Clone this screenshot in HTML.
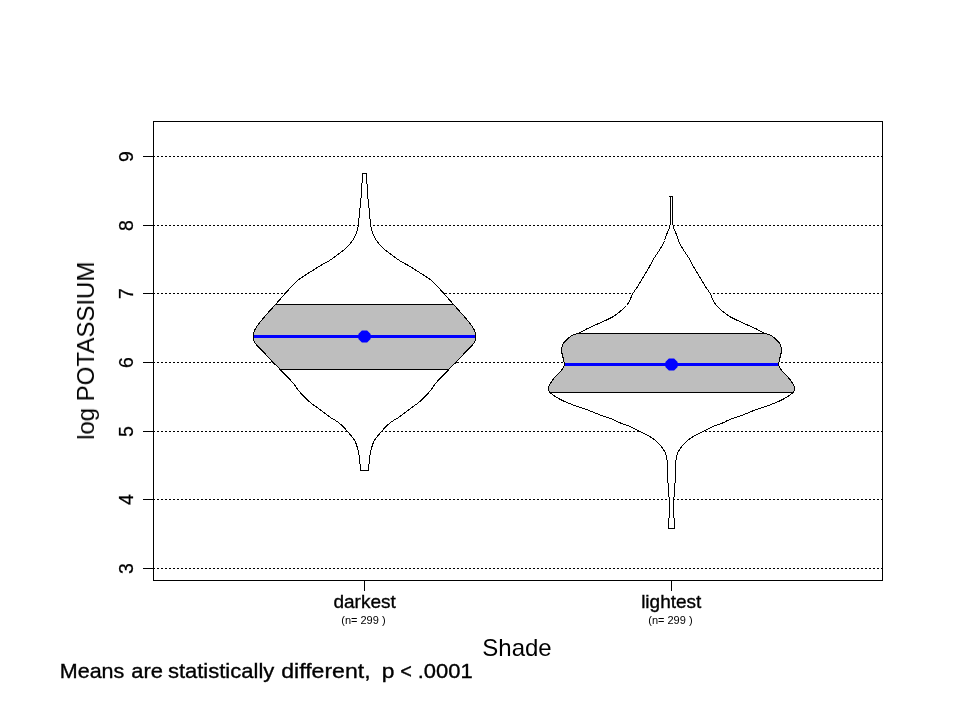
<!DOCTYPE html>
<html><head><meta charset="utf-8"><style>
html,body{margin:0;padding:0;background:#fff;width:960px;height:720px;overflow:hidden}
svg{display:block;font-family:"Liberation Sans",sans-serif}
svg g.t{filter:grayscale(1)}
</style></head><body>
<svg width="960" height="720" viewBox="0 0 960 720">
<defs><clipPath id="c1"><path d="M366.50,173.50 L366.54,174.50 L366.59,175.50 L366.63,176.50 L366.68,177.50 L366.73,178.50 L366.78,179.50 L366.84,180.50 L366.89,181.50 L366.95,182.50 L367.00,183.50 L367.06,184.50 L367.11,185.50 L367.17,186.50 L367.22,187.50 L367.28,188.50 L367.34,189.50 L367.40,190.50 L367.47,191.50 L367.53,192.50 L367.60,193.50 L367.67,194.50 L367.75,195.50 L367.83,196.50 L367.91,197.50 L368.00,198.50 L368.09,199.50 L368.19,200.50 L368.30,201.50 L368.41,202.50 L368.52,203.50 L368.63,204.50 L368.74,205.50 L368.85,206.50 L368.95,207.50 L369.05,208.50 L369.15,209.50 L369.24,210.50 L369.34,211.50 L369.43,212.50 L369.53,213.50 L369.62,214.50 L369.71,215.50 L369.81,216.50 L369.90,217.50 L370.00,218.50 L370.10,219.50 L370.21,220.50 L370.32,221.50 L370.43,222.50 L370.55,223.50 L370.68,224.50 L370.80,225.50 L370.95,226.50 L371.14,227.50 L371.37,228.50 L371.64,229.50 L371.93,230.50 L372.24,231.50 L372.56,232.50 L372.90,233.50 L373.27,234.50 L373.69,235.50 L374.16,236.50 L374.69,237.50 L375.25,238.50 L375.86,239.50 L376.50,240.50 L377.18,241.50 L377.91,242.50 L378.69,243.50 L379.52,244.50 L380.42,245.50 L381.39,246.50 L382.42,247.50 L383.53,248.50 L384.69,249.50 L385.89,250.50 L387.13,251.50 L388.40,252.50 L389.70,253.50 L391.03,254.50 L392.37,255.50 L393.73,256.50 L395.11,257.50 L396.52,258.50 L397.99,259.50 L399.52,260.50 L401.16,261.50 L402.90,262.50 L404.72,263.50 L406.54,264.50 L408.32,265.50 L410.00,266.50 L411.61,267.50 L413.21,268.50 L414.81,269.50 L416.40,270.50 L417.98,271.50 L419.56,272.50 L421.13,273.50 L422.70,274.50 L424.25,275.50 L425.78,276.50 L427.30,277.50 L428.76,278.50 L430.14,279.50 L431.44,280.50 L432.64,281.50 L433.75,282.50 L434.76,283.50 L435.70,284.50 L436.62,285.50 L437.54,286.50 L438.45,287.50 L439.36,288.50 L440.26,289.50 L441.16,290.50 L442.06,291.50 L442.95,292.50 L443.83,293.50 L444.72,294.50 L445.60,295.50 L446.48,296.50 L447.37,297.50 L448.25,298.50 L449.13,299.50 L450.02,300.50 L450.90,301.50 L451.79,302.50 L452.68,303.50 L453.57,304.50 L454.46,305.50 L455.35,306.50 L456.25,307.50 L457.14,308.50 L458.03,309.50 L458.93,310.50 L459.82,311.50 L460.71,312.50 L461.60,313.50 L462.48,314.50 L463.35,315.50 L464.23,316.50 L465.10,317.50 L465.97,318.50 L466.82,319.50 L467.65,320.50 L468.44,321.50 L469.22,322.50 L469.98,323.50 L470.73,324.50 L471.48,325.50 L472.20,326.50 L472.86,327.50 L473.46,328.50 L474.00,329.50 L474.48,330.50 L474.92,331.50 L475.28,332.50 L475.54,333.50 L475.69,334.50 L475.77,335.50 L475.80,336.50 L475.77,337.50 L475.66,338.50 L475.45,339.50 L475.12,340.50 L474.68,341.50 L474.16,342.50 L473.54,343.50 L472.82,344.50 L471.98,345.50 L471.03,346.50 L470.03,347.50 L469.01,348.50 L467.97,349.50 L466.95,350.50 L465.95,351.50 L465.00,352.50 L464.09,353.50 L463.20,354.50 L462.32,355.50 L461.45,356.50 L460.57,357.50 L459.67,358.50 L458.75,359.50 L457.79,360.50 L456.81,361.50 L455.81,362.50 L454.81,363.50 L453.80,364.50 L452.80,365.50 L451.80,366.50 L450.80,367.50 L449.80,368.50 L448.81,369.50 L447.82,370.50 L446.83,371.50 L445.84,372.50 L444.85,373.50 L443.86,374.50 L442.88,375.50 L441.90,376.50 L440.92,377.50 L439.98,378.50 L439.06,379.50 L438.16,380.50 L437.29,381.50 L436.43,382.50 L435.58,383.50 L434.76,384.50 L433.99,385.50 L433.28,386.50 L432.59,387.50 L431.91,388.50 L431.18,389.50 L430.41,390.50 L429.60,391.50 L428.77,392.50 L427.91,393.50 L427.03,394.50 L426.12,395.50 L425.17,396.50 L424.20,397.50 L423.19,398.50 L422.12,399.50 L421.01,400.50 L419.85,401.50 L418.63,402.50 L417.36,403.50 L416.03,404.50 L414.66,405.50 L413.26,406.50 L411.86,407.50 L410.47,408.50 L409.10,409.50 L407.77,410.50 L406.47,411.50 L405.19,412.50 L403.91,413.50 L402.63,414.50 L401.33,415.50 L400.00,416.50 L398.53,417.50 L396.89,418.50 L395.19,419.50 L393.52,420.50 L391.98,421.50 L390.62,422.50 L389.33,423.50 L388.12,424.50 L387.00,425.50 L385.99,426.50 L385.06,427.50 L384.14,428.50 L383.24,429.50 L382.36,430.50 L381.48,431.50 L380.61,432.50 L379.74,433.50 L378.88,434.50 L378.04,435.50 L377.21,436.50 L376.42,437.50 L375.65,438.50 L374.97,439.50 L374.38,440.50 L373.87,441.50 L373.43,442.50 L373.03,443.50 L372.67,444.50 L372.33,445.50 L371.99,446.50 L371.66,447.50 L371.35,448.50 L371.06,449.50 L370.80,450.50 L370.58,451.50 L370.40,452.50 L370.24,453.50 L370.10,454.50 L369.95,455.50 L369.82,456.50 L369.69,457.50 L369.58,458.50 L369.47,459.50 L369.36,460.50 L369.25,461.50 L369.14,462.50 L369.04,463.50 L368.95,464.50 L368.86,465.50 L368.77,466.50 L368.70,467.50 L368.63,468.50 L368.56,469.50 L368.50,470.50 L360.50,470.50 L360.44,469.50 L360.37,468.50 L360.30,467.50 L360.23,466.50 L360.14,465.50 L360.05,464.50 L359.96,463.50 L359.86,462.50 L359.75,461.50 L359.64,460.50 L359.53,459.50 L359.42,458.50 L359.31,457.50 L359.18,456.50 L359.05,455.50 L358.90,454.50 L358.76,453.50 L358.60,452.50 L358.42,451.50 L358.20,450.50 L357.94,449.50 L357.65,448.50 L357.34,447.50 L357.01,446.50 L356.67,445.50 L356.33,444.50 L355.97,443.50 L355.57,442.50 L355.13,441.50 L354.62,440.50 L354.03,439.50 L353.35,438.50 L352.58,437.50 L351.79,436.50 L350.96,435.50 L350.12,434.50 L349.26,433.50 L348.39,432.50 L347.52,431.50 L346.64,430.50 L345.76,429.50 L344.86,428.50 L343.94,427.50 L343.01,426.50 L342.00,425.50 L340.88,424.50 L339.67,423.50 L338.38,422.50 L337.02,421.50 L335.48,420.50 L333.81,419.50 L332.11,418.50 L330.47,417.50 L329.00,416.50 L327.67,415.50 L326.37,414.50 L325.09,413.50 L323.81,412.50 L322.53,411.50 L321.23,410.50 L319.90,409.50 L318.53,408.50 L317.14,407.50 L315.74,406.50 L314.34,405.50 L312.97,404.50 L311.64,403.50 L310.37,402.50 L309.15,401.50 L307.99,400.50 L306.88,399.50 L305.81,398.50 L304.80,397.50 L303.83,396.50 L302.88,395.50 L301.97,394.50 L301.09,393.50 L300.23,392.50 L299.40,391.50 L298.59,390.50 L297.82,389.50 L297.09,388.50 L296.41,387.50 L295.72,386.50 L295.01,385.50 L294.24,384.50 L293.42,383.50 L292.57,382.50 L291.71,381.50 L290.84,380.50 L289.94,379.50 L289.02,378.50 L288.08,377.50 L287.10,376.50 L286.12,375.50 L285.14,374.50 L284.15,373.50 L283.16,372.50 L282.17,371.50 L281.18,370.50 L280.19,369.50 L279.20,368.50 L278.20,367.50 L277.20,366.50 L276.20,365.50 L275.20,364.50 L274.19,363.50 L273.19,362.50 L272.19,361.50 L271.21,360.50 L270.25,359.50 L269.33,358.50 L268.43,357.50 L267.55,356.50 L266.68,355.50 L265.80,354.50 L264.91,353.50 L264.00,352.50 L263.05,351.50 L262.05,350.50 L261.03,349.50 L259.99,348.50 L258.97,347.50 L257.97,346.50 L257.02,345.50 L256.18,344.50 L255.46,343.50 L254.84,342.50 L254.32,341.50 L253.88,340.50 L253.55,339.50 L253.34,338.50 L253.23,337.50 L253.20,336.50 L253.23,335.50 L253.31,334.50 L253.46,333.50 L253.72,332.50 L254.08,331.50 L254.52,330.50 L255.00,329.50 L255.54,328.50 L256.14,327.50 L256.80,326.50 L257.52,325.50 L258.27,324.50 L259.02,323.50 L259.78,322.50 L260.56,321.50 L261.35,320.50 L262.18,319.50 L263.03,318.50 L263.90,317.50 L264.77,316.50 L265.65,315.50 L266.52,314.50 L267.40,313.50 L268.29,312.50 L269.18,311.50 L270.07,310.50 L270.97,309.50 L271.86,308.50 L272.75,307.50 L273.65,306.50 L274.54,305.50 L275.43,304.50 L276.32,303.50 L277.21,302.50 L278.10,301.50 L278.98,300.50 L279.87,299.50 L280.75,298.50 L281.63,297.50 L282.52,296.50 L283.40,295.50 L284.28,294.50 L285.17,293.50 L286.05,292.50 L286.94,291.50 L287.84,290.50 L288.74,289.50 L289.64,288.50 L290.55,287.50 L291.46,286.50 L292.38,285.50 L293.30,284.50 L294.24,283.50 L295.25,282.50 L296.36,281.50 L297.56,280.50 L298.86,279.50 L300.24,278.50 L301.70,277.50 L303.22,276.50 L304.75,275.50 L306.30,274.50 L307.87,273.50 L309.44,272.50 L311.02,271.50 L312.60,270.50 L314.19,269.50 L315.79,268.50 L317.39,267.50 L319.00,266.50 L320.68,265.50 L322.46,264.50 L324.28,263.50 L326.10,262.50 L327.84,261.50 L329.48,260.50 L331.01,259.50 L332.48,258.50 L333.89,257.50 L335.27,256.50 L336.63,255.50 L337.97,254.50 L339.30,253.50 L340.60,252.50 L341.87,251.50 L343.11,250.50 L344.31,249.50 L345.47,248.50 L346.58,247.50 L347.61,246.50 L348.58,245.50 L349.48,244.50 L350.31,243.50 L351.09,242.50 L351.82,241.50 L352.50,240.50 L353.14,239.50 L353.75,238.50 L354.31,237.50 L354.84,236.50 L355.31,235.50 L355.73,234.50 L356.10,233.50 L356.44,232.50 L356.76,231.50 L357.07,230.50 L357.36,229.50 L357.63,228.50 L357.86,227.50 L358.05,226.50 L358.20,225.50 L358.32,224.50 L358.45,223.50 L358.57,222.50 L358.68,221.50 L358.79,220.50 L358.90,219.50 L359.00,218.50 L359.10,217.50 L359.19,216.50 L359.29,215.50 L359.38,214.50 L359.47,213.50 L359.57,212.50 L359.66,211.50 L359.76,210.50 L359.85,209.50 L359.95,208.50 L360.05,207.50 L360.15,206.50 L360.26,205.50 L360.37,204.50 L360.48,203.50 L360.59,202.50 L360.70,201.50 L360.81,200.50 L360.91,199.50 L361.00,198.50 L361.09,197.50 L361.17,196.50 L361.25,195.50 L361.33,194.50 L361.40,193.50 L361.47,192.50 L361.53,191.50 L361.60,190.50 L361.66,189.50 L361.72,188.50 L361.78,187.50 L361.83,186.50 L361.89,185.50 L361.94,184.50 L362.00,183.50 L362.05,182.50 L362.11,181.50 L362.16,180.50 L362.22,179.50 L362.27,178.50 L362.32,177.50 L362.37,176.50 L362.41,175.50 L362.46,174.50 L362.50,173.50Z"/></clipPath><clipPath id="c2"><path d="M673.00,196.50 L672.89,197.50 L672.79,198.50 L672.72,199.50 L672.68,200.50 L672.64,201.50 L672.61,202.50 L672.59,203.50 L672.57,204.50 L672.55,205.50 L672.54,206.50 L672.53,207.50 L672.52,208.50 L672.52,209.50 L672.51,210.50 L672.50,211.50 L672.50,212.50 L672.49,213.50 L672.49,214.50 L672.49,215.50 L672.50,216.50 L672.51,217.50 L672.53,218.50 L672.56,219.50 L672.59,220.50 L672.64,221.50 L672.69,222.50 L672.76,223.50 L672.85,224.50 L673.03,225.50 L673.28,226.50 L673.59,227.50 L673.94,228.50 L674.31,229.50 L674.71,230.50 L675.12,231.50 L675.55,232.50 L675.99,233.50 L676.42,234.50 L676.84,235.50 L677.23,236.50 L677.56,237.50 L677.83,238.50 L678.12,239.50 L678.50,240.50 L678.93,241.50 L679.38,242.50 L679.86,243.50 L680.37,244.50 L680.90,245.50 L681.45,246.50 L682.03,247.50 L682.62,248.50 L683.23,249.50 L683.87,250.50 L684.52,251.50 L685.18,252.50 L685.85,253.50 L686.52,254.50 L687.18,255.50 L687.84,256.50 L688.48,257.50 L689.11,258.50 L689.71,259.50 L690.28,260.50 L690.83,261.50 L691.37,262.50 L691.89,263.50 L692.41,264.50 L692.94,265.50 L693.47,266.50 L694.02,267.50 L694.59,268.50 L695.18,269.50 L695.78,270.50 L696.39,271.50 L696.99,272.50 L697.59,273.50 L698.19,274.50 L698.80,275.50 L699.40,276.50 L700.00,277.50 L700.60,278.50 L701.20,279.50 L701.81,280.50 L702.41,281.50 L703.01,282.50 L703.61,283.50 L704.22,284.50 L704.82,285.50 L705.43,286.50 L706.08,287.50 L706.75,288.50 L707.44,289.50 L708.13,290.50 L708.82,291.50 L709.49,292.50 L710.12,293.50 L710.68,294.50 L711.15,295.50 L711.57,296.50 L711.96,297.50 L712.35,298.50 L712.77,299.50 L713.24,300.50 L713.78,301.50 L714.37,302.50 L715.01,303.50 L715.72,304.50 L716.49,305.50 L717.35,306.50 L718.30,307.50 L719.35,308.50 L720.49,309.50 L721.69,310.50 L722.94,311.50 L724.20,312.50 L725.45,313.50 L726.73,314.50 L728.11,315.50 L729.66,316.50 L731.44,317.50 L733.39,318.50 L735.47,319.50 L737.64,320.50 L739.84,321.50 L742.05,322.50 L744.26,323.50 L746.48,324.50 L748.71,325.50 L750.96,326.50 L753.21,327.50 L755.44,328.50 L757.44,329.50 L759.23,330.50 L761.00,331.50 L762.89,332.50 L765.53,333.50 L768.78,334.50 L770.92,335.50 L772.54,336.50 L773.91,337.50 L775.08,338.50 L776.10,339.50 L777.08,340.50 L778.03,341.50 L778.89,342.50 L779.61,343.50 L780.14,344.50 L780.57,345.50 L780.92,346.50 L781.18,347.50 L781.35,348.50 L781.41,349.50 L781.44,350.50 L781.40,351.50 L781.25,352.50 L781.01,353.50 L780.76,354.50 L780.50,355.50 L780.25,356.50 L780.00,357.50 L779.76,358.50 L779.54,359.50 L779.32,360.50 L779.11,361.50 L778.90,362.50 L778.72,363.50 L778.65,364.50 L778.75,365.50 L779.03,366.50 L779.50,367.50 L780.14,368.50 L780.89,369.50 L781.70,370.50 L782.56,371.50 L783.46,372.50 L784.39,373.50 L785.36,374.50 L786.37,375.50 L787.36,376.50 L788.30,377.50 L789.16,378.50 L789.93,379.50 L790.65,380.50 L791.32,381.50 L791.98,382.50 L792.63,383.50 L793.21,384.50 L793.69,385.50 L794.07,386.50 L794.35,387.50 L794.56,388.50 L794.61,389.50 L794.32,390.50 L793.73,391.50 L792.87,392.50 L791.79,393.50 L790.53,394.50 L789.18,395.50 L787.71,396.50 L786.13,397.50 L784.41,398.50 L782.54,399.50 L780.52,400.50 L778.33,401.50 L775.97,402.50 L773.53,403.50 L771.01,404.50 L768.39,405.50 L765.69,406.50 L762.87,407.50 L759.89,408.50 L756.86,409.50 L753.95,410.50 L751.30,411.50 L748.87,412.50 L746.56,413.50 L744.24,414.50 L741.78,415.50 L739.01,416.50 L735.86,417.50 L732.68,418.50 L729.84,419.50 L727.59,420.50 L725.67,421.50 L723.71,422.50 L721.35,423.50 L718.40,424.50 L715.43,425.50 L713.07,426.50 L710.98,427.50 L708.93,428.50 L706.90,429.50 L704.90,430.50 L702.91,431.50 L700.92,432.50 L698.95,433.50 L697.00,434.50 L695.11,435.50 L693.33,436.50 L691.66,437.50 L690.12,438.50 L688.70,439.50 L687.41,440.50 L686.25,441.50 L685.20,442.50 L684.25,443.50 L683.36,444.50 L682.55,445.50 L681.77,446.50 L681.01,447.50 L680.28,448.50 L679.59,449.50 L678.96,450.50 L678.40,451.50 L677.92,452.50 L677.53,453.50 L677.19,454.50 L676.88,455.50 L676.61,456.50 L676.39,457.50 L676.23,458.50 L676.10,459.50 L675.97,460.50 L675.86,461.50 L675.75,462.50 L675.66,463.50 L675.58,464.50 L675.53,465.50 L675.49,466.50 L675.48,467.50 L675.48,468.50 L675.50,469.50 L675.52,470.50 L675.55,471.50 L675.57,472.50 L675.58,473.50 L675.58,474.50 L675.57,475.50 L675.53,476.50 L675.47,477.50 L675.39,478.50 L675.31,479.50 L675.23,480.50 L675.14,481.50 L675.05,482.50 L674.96,483.50 L674.87,484.50 L674.78,485.50 L674.69,486.50 L674.61,487.50 L674.54,488.50 L674.47,489.50 L674.40,490.50 L674.33,491.50 L674.27,492.50 L674.21,493.50 L674.14,494.50 L674.08,495.50 L674.03,496.50 L673.97,497.50 L673.91,498.50 L673.85,499.50 L673.80,500.50 L673.74,501.50 L673.69,502.50 L673.63,503.50 L673.58,504.50 L673.53,505.50 L673.47,506.50 L673.43,507.50 L673.40,508.50 L673.38,509.50 L673.37,510.50 L673.38,511.50 L673.39,512.50 L673.41,513.50 L673.44,514.50 L673.48,515.50 L673.55,516.50 L673.80,517.50 L674.13,518.50 L674.41,519.50 L674.56,520.50 L674.65,521.50 L674.72,522.50 L674.76,523.50 L674.76,524.50 L674.74,525.50 L674.69,526.50 L674.61,527.50 L674.50,528.50 L668.50,528.50 L668.39,527.50 L668.31,526.50 L668.26,525.50 L668.24,524.50 L668.24,523.50 L668.28,522.50 L668.35,521.50 L668.44,520.50 L668.59,519.50 L668.87,518.50 L669.20,517.50 L669.45,516.50 L669.52,515.50 L669.56,514.50 L669.59,513.50 L669.61,512.50 L669.62,511.50 L669.63,510.50 L669.62,509.50 L669.60,508.50 L669.57,507.50 L669.53,506.50 L669.47,505.50 L669.42,504.50 L669.37,503.50 L669.31,502.50 L669.26,501.50 L669.20,500.50 L669.15,499.50 L669.09,498.50 L669.03,497.50 L668.97,496.50 L668.92,495.50 L668.86,494.50 L668.79,493.50 L668.73,492.50 L668.67,491.50 L668.60,490.50 L668.53,489.50 L668.46,488.50 L668.39,487.50 L668.31,486.50 L668.22,485.50 L668.13,484.50 L668.04,483.50 L667.95,482.50 L667.86,481.50 L667.77,480.50 L667.69,479.50 L667.61,478.50 L667.53,477.50 L667.47,476.50 L667.43,475.50 L667.42,474.50 L667.42,473.50 L667.43,472.50 L667.45,471.50 L667.48,470.50 L667.50,469.50 L667.52,468.50 L667.52,467.50 L667.51,466.50 L667.47,465.50 L667.42,464.50 L667.34,463.50 L667.25,462.50 L667.14,461.50 L667.03,460.50 L666.90,459.50 L666.77,458.50 L666.61,457.50 L666.39,456.50 L666.12,455.50 L665.81,454.50 L665.47,453.50 L665.08,452.50 L664.60,451.50 L664.04,450.50 L663.41,449.50 L662.72,448.50 L661.99,447.50 L661.23,446.50 L660.45,445.50 L659.64,444.50 L658.75,443.50 L657.80,442.50 L656.75,441.50 L655.59,440.50 L654.30,439.50 L652.88,438.50 L651.34,437.50 L649.67,436.50 L647.89,435.50 L646.00,434.50 L644.05,433.50 L642.08,432.50 L640.09,431.50 L638.10,430.50 L636.10,429.50 L634.07,428.50 L632.02,427.50 L629.93,426.50 L627.57,425.50 L624.60,424.50 L621.65,423.50 L619.29,422.50 L617.33,421.50 L615.41,420.50 L613.16,419.50 L610.32,418.50 L607.14,417.50 L603.99,416.50 L601.22,415.50 L598.76,414.50 L596.44,413.50 L594.13,412.50 L591.70,411.50 L589.05,410.50 L586.14,409.50 L583.11,408.50 L580.13,407.50 L577.31,406.50 L574.61,405.50 L571.99,404.50 L569.47,403.50 L567.03,402.50 L564.67,401.50 L562.48,400.50 L560.46,399.50 L558.59,398.50 L556.87,397.50 L555.29,396.50 L553.82,395.50 L552.47,394.50 L551.21,393.50 L550.13,392.50 L549.27,391.50 L548.68,390.50 L548.39,389.50 L548.44,388.50 L548.65,387.50 L548.93,386.50 L549.31,385.50 L549.79,384.50 L550.37,383.50 L551.02,382.50 L551.68,381.50 L552.35,380.50 L553.07,379.50 L553.84,378.50 L554.70,377.50 L555.64,376.50 L556.63,375.50 L557.64,374.50 L558.61,373.50 L559.54,372.50 L560.44,371.50 L561.30,370.50 L562.11,369.50 L562.86,368.50 L563.50,367.50 L563.97,366.50 L564.25,365.50 L564.35,364.50 L564.28,363.50 L564.10,362.50 L563.89,361.50 L563.68,360.50 L563.46,359.50 L563.24,358.50 L563.00,357.50 L562.75,356.50 L562.50,355.50 L562.24,354.50 L561.99,353.50 L561.75,352.50 L561.60,351.50 L561.56,350.50 L561.59,349.50 L561.65,348.50 L561.82,347.50 L562.08,346.50 L562.43,345.50 L562.86,344.50 L563.39,343.50 L564.11,342.50 L564.97,341.50 L565.92,340.50 L566.90,339.50 L567.92,338.50 L569.09,337.50 L570.46,336.50 L572.08,335.50 L574.22,334.50 L577.47,333.50 L580.11,332.50 L582.00,331.50 L583.77,330.50 L585.56,329.50 L587.56,328.50 L589.79,327.50 L592.04,326.50 L594.29,325.50 L596.52,324.50 L598.74,323.50 L600.95,322.50 L603.16,321.50 L605.36,320.50 L607.53,319.50 L609.61,318.50 L611.56,317.50 L613.34,316.50 L614.89,315.50 L616.27,314.50 L617.55,313.50 L618.80,312.50 L620.06,311.50 L621.31,310.50 L622.51,309.50 L623.65,308.50 L624.70,307.50 L625.65,306.50 L626.51,305.50 L627.28,304.50 L627.99,303.50 L628.63,302.50 L629.22,301.50 L629.76,300.50 L630.23,299.50 L630.65,298.50 L631.04,297.50 L631.43,296.50 L631.85,295.50 L632.32,294.50 L632.88,293.50 L633.51,292.50 L634.18,291.50 L634.87,290.50 L635.56,289.50 L636.25,288.50 L636.92,287.50 L637.57,286.50 L638.18,285.50 L638.78,284.50 L639.39,283.50 L639.99,282.50 L640.59,281.50 L641.19,280.50 L641.80,279.50 L642.40,278.50 L643.00,277.50 L643.60,276.50 L644.20,275.50 L644.81,274.50 L645.41,273.50 L646.01,272.50 L646.61,271.50 L647.22,270.50 L647.82,269.50 L648.41,268.50 L648.98,267.50 L649.53,266.50 L650.06,265.50 L650.59,264.50 L651.11,263.50 L651.63,262.50 L652.17,261.50 L652.72,260.50 L653.29,259.50 L653.89,258.50 L654.52,257.50 L655.16,256.50 L655.82,255.50 L656.48,254.50 L657.15,253.50 L657.82,252.50 L658.48,251.50 L659.13,250.50 L659.77,249.50 L660.38,248.50 L660.97,247.50 L661.55,246.50 L662.10,245.50 L662.63,244.50 L663.14,243.50 L663.62,242.50 L664.07,241.50 L664.50,240.50 L664.88,239.50 L665.17,238.50 L665.44,237.50 L665.77,236.50 L666.16,235.50 L666.58,234.50 L667.01,233.50 L667.45,232.50 L667.88,231.50 L668.29,230.50 L668.69,229.50 L669.06,228.50 L669.41,227.50 L669.72,226.50 L669.97,225.50 L670.15,224.50 L670.24,223.50 L670.31,222.50 L670.36,221.50 L670.41,220.50 L670.44,219.50 L670.47,218.50 L670.49,217.50 L670.50,216.50 L670.51,215.50 L670.51,214.50 L670.51,213.50 L670.50,212.50 L670.50,211.50 L670.49,210.50 L670.48,209.50 L670.48,208.50 L670.47,207.50 L670.46,206.50 L670.45,205.50 L670.43,204.50 L670.41,203.50 L670.39,202.50 L670.36,201.50 L670.32,200.50 L670.28,199.50 L670.21,198.50 L670.11,197.50 L670.00,196.50Z"/></clipPath></defs>
<line x1="153" y1="568.5" x2="883" y2="568.5" stroke="#000" stroke-width="1" stroke-dasharray="2 2" shape-rendering="crispEdges"/>
<line x1="143" y1="568.5" x2="155" y2="568.5" stroke="#000" stroke-width="1" shape-rendering="crispEdges"/>
<line x1="153" y1="499.5" x2="883" y2="499.5" stroke="#000" stroke-width="1" stroke-dasharray="2 2" shape-rendering="crispEdges"/>
<line x1="143" y1="499.5" x2="155" y2="499.5" stroke="#000" stroke-width="1" shape-rendering="crispEdges"/>
<line x1="153" y1="431.5" x2="883" y2="431.5" stroke="#000" stroke-width="1" stroke-dasharray="2 2" shape-rendering="crispEdges"/>
<line x1="143" y1="431.5" x2="155" y2="431.5" stroke="#000" stroke-width="1" shape-rendering="crispEdges"/>
<line x1="153" y1="362.5" x2="883" y2="362.5" stroke="#000" stroke-width="1" stroke-dasharray="2 2" shape-rendering="crispEdges"/>
<line x1="143" y1="362.5" x2="155" y2="362.5" stroke="#000" stroke-width="1" shape-rendering="crispEdges"/>
<line x1="153" y1="293.5" x2="883" y2="293.5" stroke="#000" stroke-width="1" stroke-dasharray="2 2" shape-rendering="crispEdges"/>
<line x1="143" y1="293.5" x2="155" y2="293.5" stroke="#000" stroke-width="1" shape-rendering="crispEdges"/>
<line x1="153" y1="225.5" x2="883" y2="225.5" stroke="#000" stroke-width="1" stroke-dasharray="2 2" shape-rendering="crispEdges"/>
<line x1="143" y1="225.5" x2="155" y2="225.5" stroke="#000" stroke-width="1" shape-rendering="crispEdges"/>
<line x1="153" y1="156.5" x2="883" y2="156.5" stroke="#000" stroke-width="1" stroke-dasharray="2 2" shape-rendering="crispEdges"/>
<line x1="143" y1="156.5" x2="155" y2="156.5" stroke="#000" stroke-width="1" shape-rendering="crispEdges"/>
<path d="M366.50,173.50 L366.54,174.50 L366.59,175.50 L366.63,176.50 L366.68,177.50 L366.73,178.50 L366.78,179.50 L366.84,180.50 L366.89,181.50 L366.95,182.50 L367.00,183.50 L367.06,184.50 L367.11,185.50 L367.17,186.50 L367.22,187.50 L367.28,188.50 L367.34,189.50 L367.40,190.50 L367.47,191.50 L367.53,192.50 L367.60,193.50 L367.67,194.50 L367.75,195.50 L367.83,196.50 L367.91,197.50 L368.00,198.50 L368.09,199.50 L368.19,200.50 L368.30,201.50 L368.41,202.50 L368.52,203.50 L368.63,204.50 L368.74,205.50 L368.85,206.50 L368.95,207.50 L369.05,208.50 L369.15,209.50 L369.24,210.50 L369.34,211.50 L369.43,212.50 L369.53,213.50 L369.62,214.50 L369.71,215.50 L369.81,216.50 L369.90,217.50 L370.00,218.50 L370.10,219.50 L370.21,220.50 L370.32,221.50 L370.43,222.50 L370.55,223.50 L370.68,224.50 L370.80,225.50 L370.95,226.50 L371.14,227.50 L371.37,228.50 L371.64,229.50 L371.93,230.50 L372.24,231.50 L372.56,232.50 L372.90,233.50 L373.27,234.50 L373.69,235.50 L374.16,236.50 L374.69,237.50 L375.25,238.50 L375.86,239.50 L376.50,240.50 L377.18,241.50 L377.91,242.50 L378.69,243.50 L379.52,244.50 L380.42,245.50 L381.39,246.50 L382.42,247.50 L383.53,248.50 L384.69,249.50 L385.89,250.50 L387.13,251.50 L388.40,252.50 L389.70,253.50 L391.03,254.50 L392.37,255.50 L393.73,256.50 L395.11,257.50 L396.52,258.50 L397.99,259.50 L399.52,260.50 L401.16,261.50 L402.90,262.50 L404.72,263.50 L406.54,264.50 L408.32,265.50 L410.00,266.50 L411.61,267.50 L413.21,268.50 L414.81,269.50 L416.40,270.50 L417.98,271.50 L419.56,272.50 L421.13,273.50 L422.70,274.50 L424.25,275.50 L425.78,276.50 L427.30,277.50 L428.76,278.50 L430.14,279.50 L431.44,280.50 L432.64,281.50 L433.75,282.50 L434.76,283.50 L435.70,284.50 L436.62,285.50 L437.54,286.50 L438.45,287.50 L439.36,288.50 L440.26,289.50 L441.16,290.50 L442.06,291.50 L442.95,292.50 L443.83,293.50 L444.72,294.50 L445.60,295.50 L446.48,296.50 L447.37,297.50 L448.25,298.50 L449.13,299.50 L450.02,300.50 L450.90,301.50 L451.79,302.50 L452.68,303.50 L453.57,304.50 L454.46,305.50 L455.35,306.50 L456.25,307.50 L457.14,308.50 L458.03,309.50 L458.93,310.50 L459.82,311.50 L460.71,312.50 L461.60,313.50 L462.48,314.50 L463.35,315.50 L464.23,316.50 L465.10,317.50 L465.97,318.50 L466.82,319.50 L467.65,320.50 L468.44,321.50 L469.22,322.50 L469.98,323.50 L470.73,324.50 L471.48,325.50 L472.20,326.50 L472.86,327.50 L473.46,328.50 L474.00,329.50 L474.48,330.50 L474.92,331.50 L475.28,332.50 L475.54,333.50 L475.69,334.50 L475.77,335.50 L475.80,336.50 L475.77,337.50 L475.66,338.50 L475.45,339.50 L475.12,340.50 L474.68,341.50 L474.16,342.50 L473.54,343.50 L472.82,344.50 L471.98,345.50 L471.03,346.50 L470.03,347.50 L469.01,348.50 L467.97,349.50 L466.95,350.50 L465.95,351.50 L465.00,352.50 L464.09,353.50 L463.20,354.50 L462.32,355.50 L461.45,356.50 L460.57,357.50 L459.67,358.50 L458.75,359.50 L457.79,360.50 L456.81,361.50 L455.81,362.50 L454.81,363.50 L453.80,364.50 L452.80,365.50 L451.80,366.50 L450.80,367.50 L449.80,368.50 L448.81,369.50 L447.82,370.50 L446.83,371.50 L445.84,372.50 L444.85,373.50 L443.86,374.50 L442.88,375.50 L441.90,376.50 L440.92,377.50 L439.98,378.50 L439.06,379.50 L438.16,380.50 L437.29,381.50 L436.43,382.50 L435.58,383.50 L434.76,384.50 L433.99,385.50 L433.28,386.50 L432.59,387.50 L431.91,388.50 L431.18,389.50 L430.41,390.50 L429.60,391.50 L428.77,392.50 L427.91,393.50 L427.03,394.50 L426.12,395.50 L425.17,396.50 L424.20,397.50 L423.19,398.50 L422.12,399.50 L421.01,400.50 L419.85,401.50 L418.63,402.50 L417.36,403.50 L416.03,404.50 L414.66,405.50 L413.26,406.50 L411.86,407.50 L410.47,408.50 L409.10,409.50 L407.77,410.50 L406.47,411.50 L405.19,412.50 L403.91,413.50 L402.63,414.50 L401.33,415.50 L400.00,416.50 L398.53,417.50 L396.89,418.50 L395.19,419.50 L393.52,420.50 L391.98,421.50 L390.62,422.50 L389.33,423.50 L388.12,424.50 L387.00,425.50 L385.99,426.50 L385.06,427.50 L384.14,428.50 L383.24,429.50 L382.36,430.50 L381.48,431.50 L380.61,432.50 L379.74,433.50 L378.88,434.50 L378.04,435.50 L377.21,436.50 L376.42,437.50 L375.65,438.50 L374.97,439.50 L374.38,440.50 L373.87,441.50 L373.43,442.50 L373.03,443.50 L372.67,444.50 L372.33,445.50 L371.99,446.50 L371.66,447.50 L371.35,448.50 L371.06,449.50 L370.80,450.50 L370.58,451.50 L370.40,452.50 L370.24,453.50 L370.10,454.50 L369.95,455.50 L369.82,456.50 L369.69,457.50 L369.58,458.50 L369.47,459.50 L369.36,460.50 L369.25,461.50 L369.14,462.50 L369.04,463.50 L368.95,464.50 L368.86,465.50 L368.77,466.50 L368.70,467.50 L368.63,468.50 L368.56,469.50 L368.50,470.50 L360.50,470.50 L360.44,469.50 L360.37,468.50 L360.30,467.50 L360.23,466.50 L360.14,465.50 L360.05,464.50 L359.96,463.50 L359.86,462.50 L359.75,461.50 L359.64,460.50 L359.53,459.50 L359.42,458.50 L359.31,457.50 L359.18,456.50 L359.05,455.50 L358.90,454.50 L358.76,453.50 L358.60,452.50 L358.42,451.50 L358.20,450.50 L357.94,449.50 L357.65,448.50 L357.34,447.50 L357.01,446.50 L356.67,445.50 L356.33,444.50 L355.97,443.50 L355.57,442.50 L355.13,441.50 L354.62,440.50 L354.03,439.50 L353.35,438.50 L352.58,437.50 L351.79,436.50 L350.96,435.50 L350.12,434.50 L349.26,433.50 L348.39,432.50 L347.52,431.50 L346.64,430.50 L345.76,429.50 L344.86,428.50 L343.94,427.50 L343.01,426.50 L342.00,425.50 L340.88,424.50 L339.67,423.50 L338.38,422.50 L337.02,421.50 L335.48,420.50 L333.81,419.50 L332.11,418.50 L330.47,417.50 L329.00,416.50 L327.67,415.50 L326.37,414.50 L325.09,413.50 L323.81,412.50 L322.53,411.50 L321.23,410.50 L319.90,409.50 L318.53,408.50 L317.14,407.50 L315.74,406.50 L314.34,405.50 L312.97,404.50 L311.64,403.50 L310.37,402.50 L309.15,401.50 L307.99,400.50 L306.88,399.50 L305.81,398.50 L304.80,397.50 L303.83,396.50 L302.88,395.50 L301.97,394.50 L301.09,393.50 L300.23,392.50 L299.40,391.50 L298.59,390.50 L297.82,389.50 L297.09,388.50 L296.41,387.50 L295.72,386.50 L295.01,385.50 L294.24,384.50 L293.42,383.50 L292.57,382.50 L291.71,381.50 L290.84,380.50 L289.94,379.50 L289.02,378.50 L288.08,377.50 L287.10,376.50 L286.12,375.50 L285.14,374.50 L284.15,373.50 L283.16,372.50 L282.17,371.50 L281.18,370.50 L280.19,369.50 L279.20,368.50 L278.20,367.50 L277.20,366.50 L276.20,365.50 L275.20,364.50 L274.19,363.50 L273.19,362.50 L272.19,361.50 L271.21,360.50 L270.25,359.50 L269.33,358.50 L268.43,357.50 L267.55,356.50 L266.68,355.50 L265.80,354.50 L264.91,353.50 L264.00,352.50 L263.05,351.50 L262.05,350.50 L261.03,349.50 L259.99,348.50 L258.97,347.50 L257.97,346.50 L257.02,345.50 L256.18,344.50 L255.46,343.50 L254.84,342.50 L254.32,341.50 L253.88,340.50 L253.55,339.50 L253.34,338.50 L253.23,337.50 L253.20,336.50 L253.23,335.50 L253.31,334.50 L253.46,333.50 L253.72,332.50 L254.08,331.50 L254.52,330.50 L255.00,329.50 L255.54,328.50 L256.14,327.50 L256.80,326.50 L257.52,325.50 L258.27,324.50 L259.02,323.50 L259.78,322.50 L260.56,321.50 L261.35,320.50 L262.18,319.50 L263.03,318.50 L263.90,317.50 L264.77,316.50 L265.65,315.50 L266.52,314.50 L267.40,313.50 L268.29,312.50 L269.18,311.50 L270.07,310.50 L270.97,309.50 L271.86,308.50 L272.75,307.50 L273.65,306.50 L274.54,305.50 L275.43,304.50 L276.32,303.50 L277.21,302.50 L278.10,301.50 L278.98,300.50 L279.87,299.50 L280.75,298.50 L281.63,297.50 L282.52,296.50 L283.40,295.50 L284.28,294.50 L285.17,293.50 L286.05,292.50 L286.94,291.50 L287.84,290.50 L288.74,289.50 L289.64,288.50 L290.55,287.50 L291.46,286.50 L292.38,285.50 L293.30,284.50 L294.24,283.50 L295.25,282.50 L296.36,281.50 L297.56,280.50 L298.86,279.50 L300.24,278.50 L301.70,277.50 L303.22,276.50 L304.75,275.50 L306.30,274.50 L307.87,273.50 L309.44,272.50 L311.02,271.50 L312.60,270.50 L314.19,269.50 L315.79,268.50 L317.39,267.50 L319.00,266.50 L320.68,265.50 L322.46,264.50 L324.28,263.50 L326.10,262.50 L327.84,261.50 L329.48,260.50 L331.01,259.50 L332.48,258.50 L333.89,257.50 L335.27,256.50 L336.63,255.50 L337.97,254.50 L339.30,253.50 L340.60,252.50 L341.87,251.50 L343.11,250.50 L344.31,249.50 L345.47,248.50 L346.58,247.50 L347.61,246.50 L348.58,245.50 L349.48,244.50 L350.31,243.50 L351.09,242.50 L351.82,241.50 L352.50,240.50 L353.14,239.50 L353.75,238.50 L354.31,237.50 L354.84,236.50 L355.31,235.50 L355.73,234.50 L356.10,233.50 L356.44,232.50 L356.76,231.50 L357.07,230.50 L357.36,229.50 L357.63,228.50 L357.86,227.50 L358.05,226.50 L358.20,225.50 L358.32,224.50 L358.45,223.50 L358.57,222.50 L358.68,221.50 L358.79,220.50 L358.90,219.50 L359.00,218.50 L359.10,217.50 L359.19,216.50 L359.29,215.50 L359.38,214.50 L359.47,213.50 L359.57,212.50 L359.66,211.50 L359.76,210.50 L359.85,209.50 L359.95,208.50 L360.05,207.50 L360.15,206.50 L360.26,205.50 L360.37,204.50 L360.48,203.50 L360.59,202.50 L360.70,201.50 L360.81,200.50 L360.91,199.50 L361.00,198.50 L361.09,197.50 L361.17,196.50 L361.25,195.50 L361.33,194.50 L361.40,193.50 L361.47,192.50 L361.53,191.50 L361.60,190.50 L361.66,189.50 L361.72,188.50 L361.78,187.50 L361.83,186.50 L361.89,185.50 L361.94,184.50 L362.00,183.50 L362.05,182.50 L362.11,181.50 L362.16,180.50 L362.22,179.50 L362.27,178.50 L362.32,177.50 L362.37,176.50 L362.41,175.50 L362.46,174.50 L362.50,173.50Z" fill="#fff"/>
<g clip-path="url(#c1)"><rect x="224.5" y="304.5" width="280" height="65.0" fill="#bebebe" stroke="#000" stroke-width="1"/><line x1="224.5" y1="336.5" x2="504.5" y2="336.5" stroke="#0000ff" stroke-width="3"/></g>
<path d="M366.50,173.50 L366.54,174.50 L366.59,175.50 L366.63,176.50 L366.68,177.50 L366.73,178.50 L366.78,179.50 L366.84,180.50 L366.89,181.50 L366.95,182.50 L367.00,183.50 L367.06,184.50 L367.11,185.50 L367.17,186.50 L367.22,187.50 L367.28,188.50 L367.34,189.50 L367.40,190.50 L367.47,191.50 L367.53,192.50 L367.60,193.50 L367.67,194.50 L367.75,195.50 L367.83,196.50 L367.91,197.50 L368.00,198.50 L368.09,199.50 L368.19,200.50 L368.30,201.50 L368.41,202.50 L368.52,203.50 L368.63,204.50 L368.74,205.50 L368.85,206.50 L368.95,207.50 L369.05,208.50 L369.15,209.50 L369.24,210.50 L369.34,211.50 L369.43,212.50 L369.53,213.50 L369.62,214.50 L369.71,215.50 L369.81,216.50 L369.90,217.50 L370.00,218.50 L370.10,219.50 L370.21,220.50 L370.32,221.50 L370.43,222.50 L370.55,223.50 L370.68,224.50 L370.80,225.50 L370.95,226.50 L371.14,227.50 L371.37,228.50 L371.64,229.50 L371.93,230.50 L372.24,231.50 L372.56,232.50 L372.90,233.50 L373.27,234.50 L373.69,235.50 L374.16,236.50 L374.69,237.50 L375.25,238.50 L375.86,239.50 L376.50,240.50 L377.18,241.50 L377.91,242.50 L378.69,243.50 L379.52,244.50 L380.42,245.50 L381.39,246.50 L382.42,247.50 L383.53,248.50 L384.69,249.50 L385.89,250.50 L387.13,251.50 L388.40,252.50 L389.70,253.50 L391.03,254.50 L392.37,255.50 L393.73,256.50 L395.11,257.50 L396.52,258.50 L397.99,259.50 L399.52,260.50 L401.16,261.50 L402.90,262.50 L404.72,263.50 L406.54,264.50 L408.32,265.50 L410.00,266.50 L411.61,267.50 L413.21,268.50 L414.81,269.50 L416.40,270.50 L417.98,271.50 L419.56,272.50 L421.13,273.50 L422.70,274.50 L424.25,275.50 L425.78,276.50 L427.30,277.50 L428.76,278.50 L430.14,279.50 L431.44,280.50 L432.64,281.50 L433.75,282.50 L434.76,283.50 L435.70,284.50 L436.62,285.50 L437.54,286.50 L438.45,287.50 L439.36,288.50 L440.26,289.50 L441.16,290.50 L442.06,291.50 L442.95,292.50 L443.83,293.50 L444.72,294.50 L445.60,295.50 L446.48,296.50 L447.37,297.50 L448.25,298.50 L449.13,299.50 L450.02,300.50 L450.90,301.50 L451.79,302.50 L452.68,303.50 L453.57,304.50 L454.46,305.50 L455.35,306.50 L456.25,307.50 L457.14,308.50 L458.03,309.50 L458.93,310.50 L459.82,311.50 L460.71,312.50 L461.60,313.50 L462.48,314.50 L463.35,315.50 L464.23,316.50 L465.10,317.50 L465.97,318.50 L466.82,319.50 L467.65,320.50 L468.44,321.50 L469.22,322.50 L469.98,323.50 L470.73,324.50 L471.48,325.50 L472.20,326.50 L472.86,327.50 L473.46,328.50 L474.00,329.50 L474.48,330.50 L474.92,331.50 L475.28,332.50 L475.54,333.50 L475.69,334.50 L475.77,335.50 L475.80,336.50 L475.77,337.50 L475.66,338.50 L475.45,339.50 L475.12,340.50 L474.68,341.50 L474.16,342.50 L473.54,343.50 L472.82,344.50 L471.98,345.50 L471.03,346.50 L470.03,347.50 L469.01,348.50 L467.97,349.50 L466.95,350.50 L465.95,351.50 L465.00,352.50 L464.09,353.50 L463.20,354.50 L462.32,355.50 L461.45,356.50 L460.57,357.50 L459.67,358.50 L458.75,359.50 L457.79,360.50 L456.81,361.50 L455.81,362.50 L454.81,363.50 L453.80,364.50 L452.80,365.50 L451.80,366.50 L450.80,367.50 L449.80,368.50 L448.81,369.50 L447.82,370.50 L446.83,371.50 L445.84,372.50 L444.85,373.50 L443.86,374.50 L442.88,375.50 L441.90,376.50 L440.92,377.50 L439.98,378.50 L439.06,379.50 L438.16,380.50 L437.29,381.50 L436.43,382.50 L435.58,383.50 L434.76,384.50 L433.99,385.50 L433.28,386.50 L432.59,387.50 L431.91,388.50 L431.18,389.50 L430.41,390.50 L429.60,391.50 L428.77,392.50 L427.91,393.50 L427.03,394.50 L426.12,395.50 L425.17,396.50 L424.20,397.50 L423.19,398.50 L422.12,399.50 L421.01,400.50 L419.85,401.50 L418.63,402.50 L417.36,403.50 L416.03,404.50 L414.66,405.50 L413.26,406.50 L411.86,407.50 L410.47,408.50 L409.10,409.50 L407.77,410.50 L406.47,411.50 L405.19,412.50 L403.91,413.50 L402.63,414.50 L401.33,415.50 L400.00,416.50 L398.53,417.50 L396.89,418.50 L395.19,419.50 L393.52,420.50 L391.98,421.50 L390.62,422.50 L389.33,423.50 L388.12,424.50 L387.00,425.50 L385.99,426.50 L385.06,427.50 L384.14,428.50 L383.24,429.50 L382.36,430.50 L381.48,431.50 L380.61,432.50 L379.74,433.50 L378.88,434.50 L378.04,435.50 L377.21,436.50 L376.42,437.50 L375.65,438.50 L374.97,439.50 L374.38,440.50 L373.87,441.50 L373.43,442.50 L373.03,443.50 L372.67,444.50 L372.33,445.50 L371.99,446.50 L371.66,447.50 L371.35,448.50 L371.06,449.50 L370.80,450.50 L370.58,451.50 L370.40,452.50 L370.24,453.50 L370.10,454.50 L369.95,455.50 L369.82,456.50 L369.69,457.50 L369.58,458.50 L369.47,459.50 L369.36,460.50 L369.25,461.50 L369.14,462.50 L369.04,463.50 L368.95,464.50 L368.86,465.50 L368.77,466.50 L368.70,467.50 L368.63,468.50 L368.56,469.50 L368.50,470.50 L360.50,470.50 L360.44,469.50 L360.37,468.50 L360.30,467.50 L360.23,466.50 L360.14,465.50 L360.05,464.50 L359.96,463.50 L359.86,462.50 L359.75,461.50 L359.64,460.50 L359.53,459.50 L359.42,458.50 L359.31,457.50 L359.18,456.50 L359.05,455.50 L358.90,454.50 L358.76,453.50 L358.60,452.50 L358.42,451.50 L358.20,450.50 L357.94,449.50 L357.65,448.50 L357.34,447.50 L357.01,446.50 L356.67,445.50 L356.33,444.50 L355.97,443.50 L355.57,442.50 L355.13,441.50 L354.62,440.50 L354.03,439.50 L353.35,438.50 L352.58,437.50 L351.79,436.50 L350.96,435.50 L350.12,434.50 L349.26,433.50 L348.39,432.50 L347.52,431.50 L346.64,430.50 L345.76,429.50 L344.86,428.50 L343.94,427.50 L343.01,426.50 L342.00,425.50 L340.88,424.50 L339.67,423.50 L338.38,422.50 L337.02,421.50 L335.48,420.50 L333.81,419.50 L332.11,418.50 L330.47,417.50 L329.00,416.50 L327.67,415.50 L326.37,414.50 L325.09,413.50 L323.81,412.50 L322.53,411.50 L321.23,410.50 L319.90,409.50 L318.53,408.50 L317.14,407.50 L315.74,406.50 L314.34,405.50 L312.97,404.50 L311.64,403.50 L310.37,402.50 L309.15,401.50 L307.99,400.50 L306.88,399.50 L305.81,398.50 L304.80,397.50 L303.83,396.50 L302.88,395.50 L301.97,394.50 L301.09,393.50 L300.23,392.50 L299.40,391.50 L298.59,390.50 L297.82,389.50 L297.09,388.50 L296.41,387.50 L295.72,386.50 L295.01,385.50 L294.24,384.50 L293.42,383.50 L292.57,382.50 L291.71,381.50 L290.84,380.50 L289.94,379.50 L289.02,378.50 L288.08,377.50 L287.10,376.50 L286.12,375.50 L285.14,374.50 L284.15,373.50 L283.16,372.50 L282.17,371.50 L281.18,370.50 L280.19,369.50 L279.20,368.50 L278.20,367.50 L277.20,366.50 L276.20,365.50 L275.20,364.50 L274.19,363.50 L273.19,362.50 L272.19,361.50 L271.21,360.50 L270.25,359.50 L269.33,358.50 L268.43,357.50 L267.55,356.50 L266.68,355.50 L265.80,354.50 L264.91,353.50 L264.00,352.50 L263.05,351.50 L262.05,350.50 L261.03,349.50 L259.99,348.50 L258.97,347.50 L257.97,346.50 L257.02,345.50 L256.18,344.50 L255.46,343.50 L254.84,342.50 L254.32,341.50 L253.88,340.50 L253.55,339.50 L253.34,338.50 L253.23,337.50 L253.20,336.50 L253.23,335.50 L253.31,334.50 L253.46,333.50 L253.72,332.50 L254.08,331.50 L254.52,330.50 L255.00,329.50 L255.54,328.50 L256.14,327.50 L256.80,326.50 L257.52,325.50 L258.27,324.50 L259.02,323.50 L259.78,322.50 L260.56,321.50 L261.35,320.50 L262.18,319.50 L263.03,318.50 L263.90,317.50 L264.77,316.50 L265.65,315.50 L266.52,314.50 L267.40,313.50 L268.29,312.50 L269.18,311.50 L270.07,310.50 L270.97,309.50 L271.86,308.50 L272.75,307.50 L273.65,306.50 L274.54,305.50 L275.43,304.50 L276.32,303.50 L277.21,302.50 L278.10,301.50 L278.98,300.50 L279.87,299.50 L280.75,298.50 L281.63,297.50 L282.52,296.50 L283.40,295.50 L284.28,294.50 L285.17,293.50 L286.05,292.50 L286.94,291.50 L287.84,290.50 L288.74,289.50 L289.64,288.50 L290.55,287.50 L291.46,286.50 L292.38,285.50 L293.30,284.50 L294.24,283.50 L295.25,282.50 L296.36,281.50 L297.56,280.50 L298.86,279.50 L300.24,278.50 L301.70,277.50 L303.22,276.50 L304.75,275.50 L306.30,274.50 L307.87,273.50 L309.44,272.50 L311.02,271.50 L312.60,270.50 L314.19,269.50 L315.79,268.50 L317.39,267.50 L319.00,266.50 L320.68,265.50 L322.46,264.50 L324.28,263.50 L326.10,262.50 L327.84,261.50 L329.48,260.50 L331.01,259.50 L332.48,258.50 L333.89,257.50 L335.27,256.50 L336.63,255.50 L337.97,254.50 L339.30,253.50 L340.60,252.50 L341.87,251.50 L343.11,250.50 L344.31,249.50 L345.47,248.50 L346.58,247.50 L347.61,246.50 L348.58,245.50 L349.48,244.50 L350.31,243.50 L351.09,242.50 L351.82,241.50 L352.50,240.50 L353.14,239.50 L353.75,238.50 L354.31,237.50 L354.84,236.50 L355.31,235.50 L355.73,234.50 L356.10,233.50 L356.44,232.50 L356.76,231.50 L357.07,230.50 L357.36,229.50 L357.63,228.50 L357.86,227.50 L358.05,226.50 L358.20,225.50 L358.32,224.50 L358.45,223.50 L358.57,222.50 L358.68,221.50 L358.79,220.50 L358.90,219.50 L359.00,218.50 L359.10,217.50 L359.19,216.50 L359.29,215.50 L359.38,214.50 L359.47,213.50 L359.57,212.50 L359.66,211.50 L359.76,210.50 L359.85,209.50 L359.95,208.50 L360.05,207.50 L360.15,206.50 L360.26,205.50 L360.37,204.50 L360.48,203.50 L360.59,202.50 L360.70,201.50 L360.81,200.50 L360.91,199.50 L361.00,198.50 L361.09,197.50 L361.17,196.50 L361.25,195.50 L361.33,194.50 L361.40,193.50 L361.47,192.50 L361.53,191.50 L361.60,190.50 L361.66,189.50 L361.72,188.50 L361.78,187.50 L361.83,186.50 L361.89,185.50 L361.94,184.50 L362.00,183.50 L362.05,182.50 L362.11,181.50 L362.16,180.50 L362.22,179.50 L362.27,178.50 L362.32,177.50 L362.37,176.50 L362.41,175.50 L362.46,174.50 L362.50,173.50Z" fill="none" stroke="#000" stroke-width="1" shape-rendering="crispEdges"/>
<polygon points="361.90,330.40 367.10,330.40 370.60,333.90 370.60,339.10 367.10,342.60 361.90,342.60 358.40,339.10 358.40,333.90" fill="#0000ff"/>
<path d="M673.00,196.50 L672.89,197.50 L672.79,198.50 L672.72,199.50 L672.68,200.50 L672.64,201.50 L672.61,202.50 L672.59,203.50 L672.57,204.50 L672.55,205.50 L672.54,206.50 L672.53,207.50 L672.52,208.50 L672.52,209.50 L672.51,210.50 L672.50,211.50 L672.50,212.50 L672.49,213.50 L672.49,214.50 L672.49,215.50 L672.50,216.50 L672.51,217.50 L672.53,218.50 L672.56,219.50 L672.59,220.50 L672.64,221.50 L672.69,222.50 L672.76,223.50 L672.85,224.50 L673.03,225.50 L673.28,226.50 L673.59,227.50 L673.94,228.50 L674.31,229.50 L674.71,230.50 L675.12,231.50 L675.55,232.50 L675.99,233.50 L676.42,234.50 L676.84,235.50 L677.23,236.50 L677.56,237.50 L677.83,238.50 L678.12,239.50 L678.50,240.50 L678.93,241.50 L679.38,242.50 L679.86,243.50 L680.37,244.50 L680.90,245.50 L681.45,246.50 L682.03,247.50 L682.62,248.50 L683.23,249.50 L683.87,250.50 L684.52,251.50 L685.18,252.50 L685.85,253.50 L686.52,254.50 L687.18,255.50 L687.84,256.50 L688.48,257.50 L689.11,258.50 L689.71,259.50 L690.28,260.50 L690.83,261.50 L691.37,262.50 L691.89,263.50 L692.41,264.50 L692.94,265.50 L693.47,266.50 L694.02,267.50 L694.59,268.50 L695.18,269.50 L695.78,270.50 L696.39,271.50 L696.99,272.50 L697.59,273.50 L698.19,274.50 L698.80,275.50 L699.40,276.50 L700.00,277.50 L700.60,278.50 L701.20,279.50 L701.81,280.50 L702.41,281.50 L703.01,282.50 L703.61,283.50 L704.22,284.50 L704.82,285.50 L705.43,286.50 L706.08,287.50 L706.75,288.50 L707.44,289.50 L708.13,290.50 L708.82,291.50 L709.49,292.50 L710.12,293.50 L710.68,294.50 L711.15,295.50 L711.57,296.50 L711.96,297.50 L712.35,298.50 L712.77,299.50 L713.24,300.50 L713.78,301.50 L714.37,302.50 L715.01,303.50 L715.72,304.50 L716.49,305.50 L717.35,306.50 L718.30,307.50 L719.35,308.50 L720.49,309.50 L721.69,310.50 L722.94,311.50 L724.20,312.50 L725.45,313.50 L726.73,314.50 L728.11,315.50 L729.66,316.50 L731.44,317.50 L733.39,318.50 L735.47,319.50 L737.64,320.50 L739.84,321.50 L742.05,322.50 L744.26,323.50 L746.48,324.50 L748.71,325.50 L750.96,326.50 L753.21,327.50 L755.44,328.50 L757.44,329.50 L759.23,330.50 L761.00,331.50 L762.89,332.50 L765.53,333.50 L768.78,334.50 L770.92,335.50 L772.54,336.50 L773.91,337.50 L775.08,338.50 L776.10,339.50 L777.08,340.50 L778.03,341.50 L778.89,342.50 L779.61,343.50 L780.14,344.50 L780.57,345.50 L780.92,346.50 L781.18,347.50 L781.35,348.50 L781.41,349.50 L781.44,350.50 L781.40,351.50 L781.25,352.50 L781.01,353.50 L780.76,354.50 L780.50,355.50 L780.25,356.50 L780.00,357.50 L779.76,358.50 L779.54,359.50 L779.32,360.50 L779.11,361.50 L778.90,362.50 L778.72,363.50 L778.65,364.50 L778.75,365.50 L779.03,366.50 L779.50,367.50 L780.14,368.50 L780.89,369.50 L781.70,370.50 L782.56,371.50 L783.46,372.50 L784.39,373.50 L785.36,374.50 L786.37,375.50 L787.36,376.50 L788.30,377.50 L789.16,378.50 L789.93,379.50 L790.65,380.50 L791.32,381.50 L791.98,382.50 L792.63,383.50 L793.21,384.50 L793.69,385.50 L794.07,386.50 L794.35,387.50 L794.56,388.50 L794.61,389.50 L794.32,390.50 L793.73,391.50 L792.87,392.50 L791.79,393.50 L790.53,394.50 L789.18,395.50 L787.71,396.50 L786.13,397.50 L784.41,398.50 L782.54,399.50 L780.52,400.50 L778.33,401.50 L775.97,402.50 L773.53,403.50 L771.01,404.50 L768.39,405.50 L765.69,406.50 L762.87,407.50 L759.89,408.50 L756.86,409.50 L753.95,410.50 L751.30,411.50 L748.87,412.50 L746.56,413.50 L744.24,414.50 L741.78,415.50 L739.01,416.50 L735.86,417.50 L732.68,418.50 L729.84,419.50 L727.59,420.50 L725.67,421.50 L723.71,422.50 L721.35,423.50 L718.40,424.50 L715.43,425.50 L713.07,426.50 L710.98,427.50 L708.93,428.50 L706.90,429.50 L704.90,430.50 L702.91,431.50 L700.92,432.50 L698.95,433.50 L697.00,434.50 L695.11,435.50 L693.33,436.50 L691.66,437.50 L690.12,438.50 L688.70,439.50 L687.41,440.50 L686.25,441.50 L685.20,442.50 L684.25,443.50 L683.36,444.50 L682.55,445.50 L681.77,446.50 L681.01,447.50 L680.28,448.50 L679.59,449.50 L678.96,450.50 L678.40,451.50 L677.92,452.50 L677.53,453.50 L677.19,454.50 L676.88,455.50 L676.61,456.50 L676.39,457.50 L676.23,458.50 L676.10,459.50 L675.97,460.50 L675.86,461.50 L675.75,462.50 L675.66,463.50 L675.58,464.50 L675.53,465.50 L675.49,466.50 L675.48,467.50 L675.48,468.50 L675.50,469.50 L675.52,470.50 L675.55,471.50 L675.57,472.50 L675.58,473.50 L675.58,474.50 L675.57,475.50 L675.53,476.50 L675.47,477.50 L675.39,478.50 L675.31,479.50 L675.23,480.50 L675.14,481.50 L675.05,482.50 L674.96,483.50 L674.87,484.50 L674.78,485.50 L674.69,486.50 L674.61,487.50 L674.54,488.50 L674.47,489.50 L674.40,490.50 L674.33,491.50 L674.27,492.50 L674.21,493.50 L674.14,494.50 L674.08,495.50 L674.03,496.50 L673.97,497.50 L673.91,498.50 L673.85,499.50 L673.80,500.50 L673.74,501.50 L673.69,502.50 L673.63,503.50 L673.58,504.50 L673.53,505.50 L673.47,506.50 L673.43,507.50 L673.40,508.50 L673.38,509.50 L673.37,510.50 L673.38,511.50 L673.39,512.50 L673.41,513.50 L673.44,514.50 L673.48,515.50 L673.55,516.50 L673.80,517.50 L674.13,518.50 L674.41,519.50 L674.56,520.50 L674.65,521.50 L674.72,522.50 L674.76,523.50 L674.76,524.50 L674.74,525.50 L674.69,526.50 L674.61,527.50 L674.50,528.50 L668.50,528.50 L668.39,527.50 L668.31,526.50 L668.26,525.50 L668.24,524.50 L668.24,523.50 L668.28,522.50 L668.35,521.50 L668.44,520.50 L668.59,519.50 L668.87,518.50 L669.20,517.50 L669.45,516.50 L669.52,515.50 L669.56,514.50 L669.59,513.50 L669.61,512.50 L669.62,511.50 L669.63,510.50 L669.62,509.50 L669.60,508.50 L669.57,507.50 L669.53,506.50 L669.47,505.50 L669.42,504.50 L669.37,503.50 L669.31,502.50 L669.26,501.50 L669.20,500.50 L669.15,499.50 L669.09,498.50 L669.03,497.50 L668.97,496.50 L668.92,495.50 L668.86,494.50 L668.79,493.50 L668.73,492.50 L668.67,491.50 L668.60,490.50 L668.53,489.50 L668.46,488.50 L668.39,487.50 L668.31,486.50 L668.22,485.50 L668.13,484.50 L668.04,483.50 L667.95,482.50 L667.86,481.50 L667.77,480.50 L667.69,479.50 L667.61,478.50 L667.53,477.50 L667.47,476.50 L667.43,475.50 L667.42,474.50 L667.42,473.50 L667.43,472.50 L667.45,471.50 L667.48,470.50 L667.50,469.50 L667.52,468.50 L667.52,467.50 L667.51,466.50 L667.47,465.50 L667.42,464.50 L667.34,463.50 L667.25,462.50 L667.14,461.50 L667.03,460.50 L666.90,459.50 L666.77,458.50 L666.61,457.50 L666.39,456.50 L666.12,455.50 L665.81,454.50 L665.47,453.50 L665.08,452.50 L664.60,451.50 L664.04,450.50 L663.41,449.50 L662.72,448.50 L661.99,447.50 L661.23,446.50 L660.45,445.50 L659.64,444.50 L658.75,443.50 L657.80,442.50 L656.75,441.50 L655.59,440.50 L654.30,439.50 L652.88,438.50 L651.34,437.50 L649.67,436.50 L647.89,435.50 L646.00,434.50 L644.05,433.50 L642.08,432.50 L640.09,431.50 L638.10,430.50 L636.10,429.50 L634.07,428.50 L632.02,427.50 L629.93,426.50 L627.57,425.50 L624.60,424.50 L621.65,423.50 L619.29,422.50 L617.33,421.50 L615.41,420.50 L613.16,419.50 L610.32,418.50 L607.14,417.50 L603.99,416.50 L601.22,415.50 L598.76,414.50 L596.44,413.50 L594.13,412.50 L591.70,411.50 L589.05,410.50 L586.14,409.50 L583.11,408.50 L580.13,407.50 L577.31,406.50 L574.61,405.50 L571.99,404.50 L569.47,403.50 L567.03,402.50 L564.67,401.50 L562.48,400.50 L560.46,399.50 L558.59,398.50 L556.87,397.50 L555.29,396.50 L553.82,395.50 L552.47,394.50 L551.21,393.50 L550.13,392.50 L549.27,391.50 L548.68,390.50 L548.39,389.50 L548.44,388.50 L548.65,387.50 L548.93,386.50 L549.31,385.50 L549.79,384.50 L550.37,383.50 L551.02,382.50 L551.68,381.50 L552.35,380.50 L553.07,379.50 L553.84,378.50 L554.70,377.50 L555.64,376.50 L556.63,375.50 L557.64,374.50 L558.61,373.50 L559.54,372.50 L560.44,371.50 L561.30,370.50 L562.11,369.50 L562.86,368.50 L563.50,367.50 L563.97,366.50 L564.25,365.50 L564.35,364.50 L564.28,363.50 L564.10,362.50 L563.89,361.50 L563.68,360.50 L563.46,359.50 L563.24,358.50 L563.00,357.50 L562.75,356.50 L562.50,355.50 L562.24,354.50 L561.99,353.50 L561.75,352.50 L561.60,351.50 L561.56,350.50 L561.59,349.50 L561.65,348.50 L561.82,347.50 L562.08,346.50 L562.43,345.50 L562.86,344.50 L563.39,343.50 L564.11,342.50 L564.97,341.50 L565.92,340.50 L566.90,339.50 L567.92,338.50 L569.09,337.50 L570.46,336.50 L572.08,335.50 L574.22,334.50 L577.47,333.50 L580.11,332.50 L582.00,331.50 L583.77,330.50 L585.56,329.50 L587.56,328.50 L589.79,327.50 L592.04,326.50 L594.29,325.50 L596.52,324.50 L598.74,323.50 L600.95,322.50 L603.16,321.50 L605.36,320.50 L607.53,319.50 L609.61,318.50 L611.56,317.50 L613.34,316.50 L614.89,315.50 L616.27,314.50 L617.55,313.50 L618.80,312.50 L620.06,311.50 L621.31,310.50 L622.51,309.50 L623.65,308.50 L624.70,307.50 L625.65,306.50 L626.51,305.50 L627.28,304.50 L627.99,303.50 L628.63,302.50 L629.22,301.50 L629.76,300.50 L630.23,299.50 L630.65,298.50 L631.04,297.50 L631.43,296.50 L631.85,295.50 L632.32,294.50 L632.88,293.50 L633.51,292.50 L634.18,291.50 L634.87,290.50 L635.56,289.50 L636.25,288.50 L636.92,287.50 L637.57,286.50 L638.18,285.50 L638.78,284.50 L639.39,283.50 L639.99,282.50 L640.59,281.50 L641.19,280.50 L641.80,279.50 L642.40,278.50 L643.00,277.50 L643.60,276.50 L644.20,275.50 L644.81,274.50 L645.41,273.50 L646.01,272.50 L646.61,271.50 L647.22,270.50 L647.82,269.50 L648.41,268.50 L648.98,267.50 L649.53,266.50 L650.06,265.50 L650.59,264.50 L651.11,263.50 L651.63,262.50 L652.17,261.50 L652.72,260.50 L653.29,259.50 L653.89,258.50 L654.52,257.50 L655.16,256.50 L655.82,255.50 L656.48,254.50 L657.15,253.50 L657.82,252.50 L658.48,251.50 L659.13,250.50 L659.77,249.50 L660.38,248.50 L660.97,247.50 L661.55,246.50 L662.10,245.50 L662.63,244.50 L663.14,243.50 L663.62,242.50 L664.07,241.50 L664.50,240.50 L664.88,239.50 L665.17,238.50 L665.44,237.50 L665.77,236.50 L666.16,235.50 L666.58,234.50 L667.01,233.50 L667.45,232.50 L667.88,231.50 L668.29,230.50 L668.69,229.50 L669.06,228.50 L669.41,227.50 L669.72,226.50 L669.97,225.50 L670.15,224.50 L670.24,223.50 L670.31,222.50 L670.36,221.50 L670.41,220.50 L670.44,219.50 L670.47,218.50 L670.49,217.50 L670.50,216.50 L670.51,215.50 L670.51,214.50 L670.51,213.50 L670.50,212.50 L670.50,211.50 L670.49,210.50 L670.48,209.50 L670.48,208.50 L670.47,207.50 L670.46,206.50 L670.45,205.50 L670.43,204.50 L670.41,203.50 L670.39,202.50 L670.36,201.50 L670.32,200.50 L670.28,199.50 L670.21,198.50 L670.11,197.50 L670.00,196.50Z" fill="#fff"/>
<g clip-path="url(#c2)"><rect x="531.5" y="333.5" width="280" height="59.0" fill="#bebebe" stroke="#000" stroke-width="1"/><line x1="531.5" y1="364.5" x2="811.5" y2="364.5" stroke="#0000ff" stroke-width="3"/></g>
<path d="M673.00,196.50 L672.89,197.50 L672.79,198.50 L672.72,199.50 L672.68,200.50 L672.64,201.50 L672.61,202.50 L672.59,203.50 L672.57,204.50 L672.55,205.50 L672.54,206.50 L672.53,207.50 L672.52,208.50 L672.52,209.50 L672.51,210.50 L672.50,211.50 L672.50,212.50 L672.49,213.50 L672.49,214.50 L672.49,215.50 L672.50,216.50 L672.51,217.50 L672.53,218.50 L672.56,219.50 L672.59,220.50 L672.64,221.50 L672.69,222.50 L672.76,223.50 L672.85,224.50 L673.03,225.50 L673.28,226.50 L673.59,227.50 L673.94,228.50 L674.31,229.50 L674.71,230.50 L675.12,231.50 L675.55,232.50 L675.99,233.50 L676.42,234.50 L676.84,235.50 L677.23,236.50 L677.56,237.50 L677.83,238.50 L678.12,239.50 L678.50,240.50 L678.93,241.50 L679.38,242.50 L679.86,243.50 L680.37,244.50 L680.90,245.50 L681.45,246.50 L682.03,247.50 L682.62,248.50 L683.23,249.50 L683.87,250.50 L684.52,251.50 L685.18,252.50 L685.85,253.50 L686.52,254.50 L687.18,255.50 L687.84,256.50 L688.48,257.50 L689.11,258.50 L689.71,259.50 L690.28,260.50 L690.83,261.50 L691.37,262.50 L691.89,263.50 L692.41,264.50 L692.94,265.50 L693.47,266.50 L694.02,267.50 L694.59,268.50 L695.18,269.50 L695.78,270.50 L696.39,271.50 L696.99,272.50 L697.59,273.50 L698.19,274.50 L698.80,275.50 L699.40,276.50 L700.00,277.50 L700.60,278.50 L701.20,279.50 L701.81,280.50 L702.41,281.50 L703.01,282.50 L703.61,283.50 L704.22,284.50 L704.82,285.50 L705.43,286.50 L706.08,287.50 L706.75,288.50 L707.44,289.50 L708.13,290.50 L708.82,291.50 L709.49,292.50 L710.12,293.50 L710.68,294.50 L711.15,295.50 L711.57,296.50 L711.96,297.50 L712.35,298.50 L712.77,299.50 L713.24,300.50 L713.78,301.50 L714.37,302.50 L715.01,303.50 L715.72,304.50 L716.49,305.50 L717.35,306.50 L718.30,307.50 L719.35,308.50 L720.49,309.50 L721.69,310.50 L722.94,311.50 L724.20,312.50 L725.45,313.50 L726.73,314.50 L728.11,315.50 L729.66,316.50 L731.44,317.50 L733.39,318.50 L735.47,319.50 L737.64,320.50 L739.84,321.50 L742.05,322.50 L744.26,323.50 L746.48,324.50 L748.71,325.50 L750.96,326.50 L753.21,327.50 L755.44,328.50 L757.44,329.50 L759.23,330.50 L761.00,331.50 L762.89,332.50 L765.53,333.50 L768.78,334.50 L770.92,335.50 L772.54,336.50 L773.91,337.50 L775.08,338.50 L776.10,339.50 L777.08,340.50 L778.03,341.50 L778.89,342.50 L779.61,343.50 L780.14,344.50 L780.57,345.50 L780.92,346.50 L781.18,347.50 L781.35,348.50 L781.41,349.50 L781.44,350.50 L781.40,351.50 L781.25,352.50 L781.01,353.50 L780.76,354.50 L780.50,355.50 L780.25,356.50 L780.00,357.50 L779.76,358.50 L779.54,359.50 L779.32,360.50 L779.11,361.50 L778.90,362.50 L778.72,363.50 L778.65,364.50 L778.75,365.50 L779.03,366.50 L779.50,367.50 L780.14,368.50 L780.89,369.50 L781.70,370.50 L782.56,371.50 L783.46,372.50 L784.39,373.50 L785.36,374.50 L786.37,375.50 L787.36,376.50 L788.30,377.50 L789.16,378.50 L789.93,379.50 L790.65,380.50 L791.32,381.50 L791.98,382.50 L792.63,383.50 L793.21,384.50 L793.69,385.50 L794.07,386.50 L794.35,387.50 L794.56,388.50 L794.61,389.50 L794.32,390.50 L793.73,391.50 L792.87,392.50 L791.79,393.50 L790.53,394.50 L789.18,395.50 L787.71,396.50 L786.13,397.50 L784.41,398.50 L782.54,399.50 L780.52,400.50 L778.33,401.50 L775.97,402.50 L773.53,403.50 L771.01,404.50 L768.39,405.50 L765.69,406.50 L762.87,407.50 L759.89,408.50 L756.86,409.50 L753.95,410.50 L751.30,411.50 L748.87,412.50 L746.56,413.50 L744.24,414.50 L741.78,415.50 L739.01,416.50 L735.86,417.50 L732.68,418.50 L729.84,419.50 L727.59,420.50 L725.67,421.50 L723.71,422.50 L721.35,423.50 L718.40,424.50 L715.43,425.50 L713.07,426.50 L710.98,427.50 L708.93,428.50 L706.90,429.50 L704.90,430.50 L702.91,431.50 L700.92,432.50 L698.95,433.50 L697.00,434.50 L695.11,435.50 L693.33,436.50 L691.66,437.50 L690.12,438.50 L688.70,439.50 L687.41,440.50 L686.25,441.50 L685.20,442.50 L684.25,443.50 L683.36,444.50 L682.55,445.50 L681.77,446.50 L681.01,447.50 L680.28,448.50 L679.59,449.50 L678.96,450.50 L678.40,451.50 L677.92,452.50 L677.53,453.50 L677.19,454.50 L676.88,455.50 L676.61,456.50 L676.39,457.50 L676.23,458.50 L676.10,459.50 L675.97,460.50 L675.86,461.50 L675.75,462.50 L675.66,463.50 L675.58,464.50 L675.53,465.50 L675.49,466.50 L675.48,467.50 L675.48,468.50 L675.50,469.50 L675.52,470.50 L675.55,471.50 L675.57,472.50 L675.58,473.50 L675.58,474.50 L675.57,475.50 L675.53,476.50 L675.47,477.50 L675.39,478.50 L675.31,479.50 L675.23,480.50 L675.14,481.50 L675.05,482.50 L674.96,483.50 L674.87,484.50 L674.78,485.50 L674.69,486.50 L674.61,487.50 L674.54,488.50 L674.47,489.50 L674.40,490.50 L674.33,491.50 L674.27,492.50 L674.21,493.50 L674.14,494.50 L674.08,495.50 L674.03,496.50 L673.97,497.50 L673.91,498.50 L673.85,499.50 L673.80,500.50 L673.74,501.50 L673.69,502.50 L673.63,503.50 L673.58,504.50 L673.53,505.50 L673.47,506.50 L673.43,507.50 L673.40,508.50 L673.38,509.50 L673.37,510.50 L673.38,511.50 L673.39,512.50 L673.41,513.50 L673.44,514.50 L673.48,515.50 L673.55,516.50 L673.80,517.50 L674.13,518.50 L674.41,519.50 L674.56,520.50 L674.65,521.50 L674.72,522.50 L674.76,523.50 L674.76,524.50 L674.74,525.50 L674.69,526.50 L674.61,527.50 L674.50,528.50 L668.50,528.50 L668.39,527.50 L668.31,526.50 L668.26,525.50 L668.24,524.50 L668.24,523.50 L668.28,522.50 L668.35,521.50 L668.44,520.50 L668.59,519.50 L668.87,518.50 L669.20,517.50 L669.45,516.50 L669.52,515.50 L669.56,514.50 L669.59,513.50 L669.61,512.50 L669.62,511.50 L669.63,510.50 L669.62,509.50 L669.60,508.50 L669.57,507.50 L669.53,506.50 L669.47,505.50 L669.42,504.50 L669.37,503.50 L669.31,502.50 L669.26,501.50 L669.20,500.50 L669.15,499.50 L669.09,498.50 L669.03,497.50 L668.97,496.50 L668.92,495.50 L668.86,494.50 L668.79,493.50 L668.73,492.50 L668.67,491.50 L668.60,490.50 L668.53,489.50 L668.46,488.50 L668.39,487.50 L668.31,486.50 L668.22,485.50 L668.13,484.50 L668.04,483.50 L667.95,482.50 L667.86,481.50 L667.77,480.50 L667.69,479.50 L667.61,478.50 L667.53,477.50 L667.47,476.50 L667.43,475.50 L667.42,474.50 L667.42,473.50 L667.43,472.50 L667.45,471.50 L667.48,470.50 L667.50,469.50 L667.52,468.50 L667.52,467.50 L667.51,466.50 L667.47,465.50 L667.42,464.50 L667.34,463.50 L667.25,462.50 L667.14,461.50 L667.03,460.50 L666.90,459.50 L666.77,458.50 L666.61,457.50 L666.39,456.50 L666.12,455.50 L665.81,454.50 L665.47,453.50 L665.08,452.50 L664.60,451.50 L664.04,450.50 L663.41,449.50 L662.72,448.50 L661.99,447.50 L661.23,446.50 L660.45,445.50 L659.64,444.50 L658.75,443.50 L657.80,442.50 L656.75,441.50 L655.59,440.50 L654.30,439.50 L652.88,438.50 L651.34,437.50 L649.67,436.50 L647.89,435.50 L646.00,434.50 L644.05,433.50 L642.08,432.50 L640.09,431.50 L638.10,430.50 L636.10,429.50 L634.07,428.50 L632.02,427.50 L629.93,426.50 L627.57,425.50 L624.60,424.50 L621.65,423.50 L619.29,422.50 L617.33,421.50 L615.41,420.50 L613.16,419.50 L610.32,418.50 L607.14,417.50 L603.99,416.50 L601.22,415.50 L598.76,414.50 L596.44,413.50 L594.13,412.50 L591.70,411.50 L589.05,410.50 L586.14,409.50 L583.11,408.50 L580.13,407.50 L577.31,406.50 L574.61,405.50 L571.99,404.50 L569.47,403.50 L567.03,402.50 L564.67,401.50 L562.48,400.50 L560.46,399.50 L558.59,398.50 L556.87,397.50 L555.29,396.50 L553.82,395.50 L552.47,394.50 L551.21,393.50 L550.13,392.50 L549.27,391.50 L548.68,390.50 L548.39,389.50 L548.44,388.50 L548.65,387.50 L548.93,386.50 L549.31,385.50 L549.79,384.50 L550.37,383.50 L551.02,382.50 L551.68,381.50 L552.35,380.50 L553.07,379.50 L553.84,378.50 L554.70,377.50 L555.64,376.50 L556.63,375.50 L557.64,374.50 L558.61,373.50 L559.54,372.50 L560.44,371.50 L561.30,370.50 L562.11,369.50 L562.86,368.50 L563.50,367.50 L563.97,366.50 L564.25,365.50 L564.35,364.50 L564.28,363.50 L564.10,362.50 L563.89,361.50 L563.68,360.50 L563.46,359.50 L563.24,358.50 L563.00,357.50 L562.75,356.50 L562.50,355.50 L562.24,354.50 L561.99,353.50 L561.75,352.50 L561.60,351.50 L561.56,350.50 L561.59,349.50 L561.65,348.50 L561.82,347.50 L562.08,346.50 L562.43,345.50 L562.86,344.50 L563.39,343.50 L564.11,342.50 L564.97,341.50 L565.92,340.50 L566.90,339.50 L567.92,338.50 L569.09,337.50 L570.46,336.50 L572.08,335.50 L574.22,334.50 L577.47,333.50 L580.11,332.50 L582.00,331.50 L583.77,330.50 L585.56,329.50 L587.56,328.50 L589.79,327.50 L592.04,326.50 L594.29,325.50 L596.52,324.50 L598.74,323.50 L600.95,322.50 L603.16,321.50 L605.36,320.50 L607.53,319.50 L609.61,318.50 L611.56,317.50 L613.34,316.50 L614.89,315.50 L616.27,314.50 L617.55,313.50 L618.80,312.50 L620.06,311.50 L621.31,310.50 L622.51,309.50 L623.65,308.50 L624.70,307.50 L625.65,306.50 L626.51,305.50 L627.28,304.50 L627.99,303.50 L628.63,302.50 L629.22,301.50 L629.76,300.50 L630.23,299.50 L630.65,298.50 L631.04,297.50 L631.43,296.50 L631.85,295.50 L632.32,294.50 L632.88,293.50 L633.51,292.50 L634.18,291.50 L634.87,290.50 L635.56,289.50 L636.25,288.50 L636.92,287.50 L637.57,286.50 L638.18,285.50 L638.78,284.50 L639.39,283.50 L639.99,282.50 L640.59,281.50 L641.19,280.50 L641.80,279.50 L642.40,278.50 L643.00,277.50 L643.60,276.50 L644.20,275.50 L644.81,274.50 L645.41,273.50 L646.01,272.50 L646.61,271.50 L647.22,270.50 L647.82,269.50 L648.41,268.50 L648.98,267.50 L649.53,266.50 L650.06,265.50 L650.59,264.50 L651.11,263.50 L651.63,262.50 L652.17,261.50 L652.72,260.50 L653.29,259.50 L653.89,258.50 L654.52,257.50 L655.16,256.50 L655.82,255.50 L656.48,254.50 L657.15,253.50 L657.82,252.50 L658.48,251.50 L659.13,250.50 L659.77,249.50 L660.38,248.50 L660.97,247.50 L661.55,246.50 L662.10,245.50 L662.63,244.50 L663.14,243.50 L663.62,242.50 L664.07,241.50 L664.50,240.50 L664.88,239.50 L665.17,238.50 L665.44,237.50 L665.77,236.50 L666.16,235.50 L666.58,234.50 L667.01,233.50 L667.45,232.50 L667.88,231.50 L668.29,230.50 L668.69,229.50 L669.06,228.50 L669.41,227.50 L669.72,226.50 L669.97,225.50 L670.15,224.50 L670.24,223.50 L670.31,222.50 L670.36,221.50 L670.41,220.50 L670.44,219.50 L670.47,218.50 L670.49,217.50 L670.50,216.50 L670.51,215.50 L670.51,214.50 L670.51,213.50 L670.50,212.50 L670.50,211.50 L670.49,210.50 L670.48,209.50 L670.48,208.50 L670.47,207.50 L670.46,206.50 L670.45,205.50 L670.43,204.50 L670.41,203.50 L670.39,202.50 L670.36,201.50 L670.32,200.50 L670.28,199.50 L670.21,198.50 L670.11,197.50 L670.00,196.50Z" fill="none" stroke="#000" stroke-width="1" shape-rendering="crispEdges"/>
<polygon points="668.90,358.40 674.10,358.40 677.60,361.90 677.60,367.10 674.10,370.60 668.90,370.60 665.40,367.10 665.40,361.90" fill="#0000ff"/>
<rect x="153.5" y="121.5" width="729" height="459" fill="none" stroke="#000" stroke-width="1" shape-rendering="crispEdges"/>
<line x1="364.5" y1="580" x2="364.5" y2="591" stroke="#000" stroke-width="1" shape-rendering="crispEdges"/>
<line x1="671.5" y1="580" x2="671.5" y2="591" stroke="#000" stroke-width="1" shape-rendering="crispEdges"/>
<g class="t" font-family="Liberation Sans, sans-serif" fill="#000" stroke="#000" stroke-width="0.3">
<text transform="translate(132.5,568.5) rotate(-90)" text-anchor="middle" font-size="19.5" stroke-width="0.25">3</text>
<text transform="translate(132.5,499.5) rotate(-90)" text-anchor="middle" font-size="19.5" stroke-width="0.25">4</text>
<text transform="translate(132.5,431.5) rotate(-90)" text-anchor="middle" font-size="19.5" stroke-width="0.25">5</text>
<text transform="translate(132.5,362.5) rotate(-90)" text-anchor="middle" font-size="19.5" stroke-width="0.25">6</text>
<text transform="translate(132.5,293.5) rotate(-90)" text-anchor="middle" font-size="19.5" stroke-width="0.25">7</text>
<text transform="translate(132.5,225.5) rotate(-90)" text-anchor="middle" font-size="19.5" stroke-width="0.25">8</text>
<text transform="translate(132.5,156.5) rotate(-90)" text-anchor="middle" font-size="19.5" stroke-width="0.25">9</text>
<text transform="translate(94,350.8) rotate(-90)" text-anchor="middle" font-size="24" stroke="none">log POTASSIUM</text>
<text x="364.6" y="607.7" text-anchor="middle" font-size="19" stroke-width="0.35">darkest</text>
<text x="671.25" y="607.7" text-anchor="middle" font-size="19" stroke-width="0.35">lightest</text>
<text x="363.4" y="624" text-anchor="middle" font-size="11" stroke="none">(n= 299 )</text>
<text x="670.4" y="624" text-anchor="middle" font-size="11" stroke="none">(n= 299 )</text>
<text x="517" y="655.7" text-anchor="middle" font-size="24" stroke="none">Shade</text>
<text transform="translate(59.76,677.7) scale(1.0393,1)" font-size="20.7" stroke-width="0.35">Means</text>
<text transform="translate(131.25,677.7) scale(1.0603,1)" font-size="20.7" stroke-width="0.35">are</text>
<text transform="translate(167.90,677.7) scale(1.0630,1)" font-size="20.7" stroke-width="0.35">statistically</text>
<text transform="translate(281.25,677.7) scale(1.1146,1)" font-size="20.7" stroke-width="0.35">different,</text>
<text transform="translate(381.80,677.7) scale(1.1000,1)" font-size="20.7" stroke-width="0.35">p</text>
<text transform="translate(400.29,677.7) scale(0.9591,1)" font-size="20.7" stroke-width="0.35">&lt;</text>
<text transform="translate(417.69,677.7) scale(1.0610,1)" font-size="20.7" stroke-width="0.35">.0001</text>
</g></svg>
</body></html>
